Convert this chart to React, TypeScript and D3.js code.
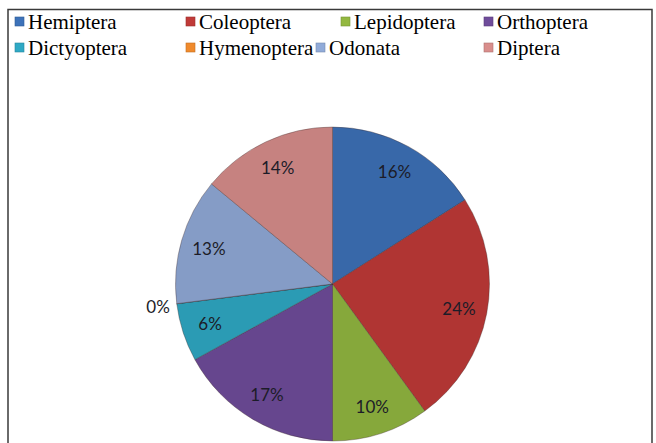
import React from 'react';
import * as d3 from 'd3';

// insect orders, clockwise from 12 o'clock
const orders = ['Hemiptera', 'Coleoptera', 'Lepidoptera', 'Orthoptera', 'Dictyoptera', 'Hymenoptera', 'Odonata', 'Diptera'];
const shares = [16, 24, 10, 17, 6, 0, 13, 14];
const colors = ['#3d72b9', '#c03a38', '#93b840', '#6f4c9b', '#2fa9c5', '#f08a2c', '#91abd9', '#d98e8c'];

const W = 656;
const H = 443;
const cx = 332.5;
const cy = 284;
const R = 157;

// legend grid: marker x per row, row baselines
const legendCols = [15, 186, 341, 484];
const legendCols2 = [15, 186, 316, 484];
const legendRows = [29, 55];

export default function App() {
  const data = orders.map((name, i) => ({ name, value: shares[i], color: colors[i] }));

  const pie = d3.pie<any>().sort(null).value(d => d.value);
  const arcs = pie(data);
  const arc = d3.arc<any>().innerRadius(0).outerRadius(R);
  const labelArc = d3.arc<any>().innerRadius(R * 0.82).outerRadius(R * 0.82);
  const outsideArc = d3.arc<any>().innerRadius(R * 1.12).outerRadius(R * 1.12);

  return (
    <svg width={W} height={H} style={{ position: 'fixed', left: 0, top: 0, background: '#fff' }}>
      <defs>
        {data.map((d, i) => (
          <radialGradient key={i} id={`g${i}`} cx={cx} cy={cy} r={R} gradientUnits="userSpaceOnUse">
            <stop offset="0%" stopColor={d3.color(d.color)!.darker(0.1).toString()} />
            <stop offset="90%" stopColor={d.color} />
            <stop offset="96%" stopColor={d3.color(d.color)!.brighter(0.3).toString()} />
            <stop offset="100%" stopColor={d3.color(d.color)!.darker(0.25).toString()} />
          </radialGradient>
        ))}
      </defs>
      <rect x={8} y={9.5} width={644} height={460} fill="none" stroke="#3a3a3a" strokeWidth={1.5} />

      {data.map((d, i) => {
        const row = i < 4 ? 0 : 1;
        const col = i % 4;
        const x = row === 0 ? legendCols[col] : legendCols2[col];
        const y = legendRows[row];
        return (
          <g key={d.name}>
            <rect x={x} y={y - 12} width={9} height={9} fill={d.color} stroke={d3.color(d.color)!.darker(0.6).toString()} strokeWidth={0.6} />
            <text x={x + 13} y={y} fontFamily="Liberation Serif, Times New Roman, DejaVu Serif, serif" fontSize={21} fill="#000">{d.name}</text>
          </g>
        );
      })}

      <g>
        {arcs.map((a, i) => (
          <path key={i} d={arc(a) || ''} transform={`translate(${cx},${cy})`} fill={`url(#g${i})`}
            stroke="rgba(60,40,40,0.35)" strokeWidth={1} />
        ))}
      </g>

      {arcs.map((a, i) => {
        const [lx, ly] = a.data.value === 0 ? outsideArc.centroid(a) : labelArc.centroid(a);
        return (
          <text key={i} x={cx + lx} y={cy + ly} textAnchor="middle" dominantBaseline="central"
            fontFamily="Lato, Open Sans, sans-serif" fontSize={17} fill="#1c1c28">
            {`${a.data.value}%`}
          </text>
        );
      })}
    </svg>
  );
}
